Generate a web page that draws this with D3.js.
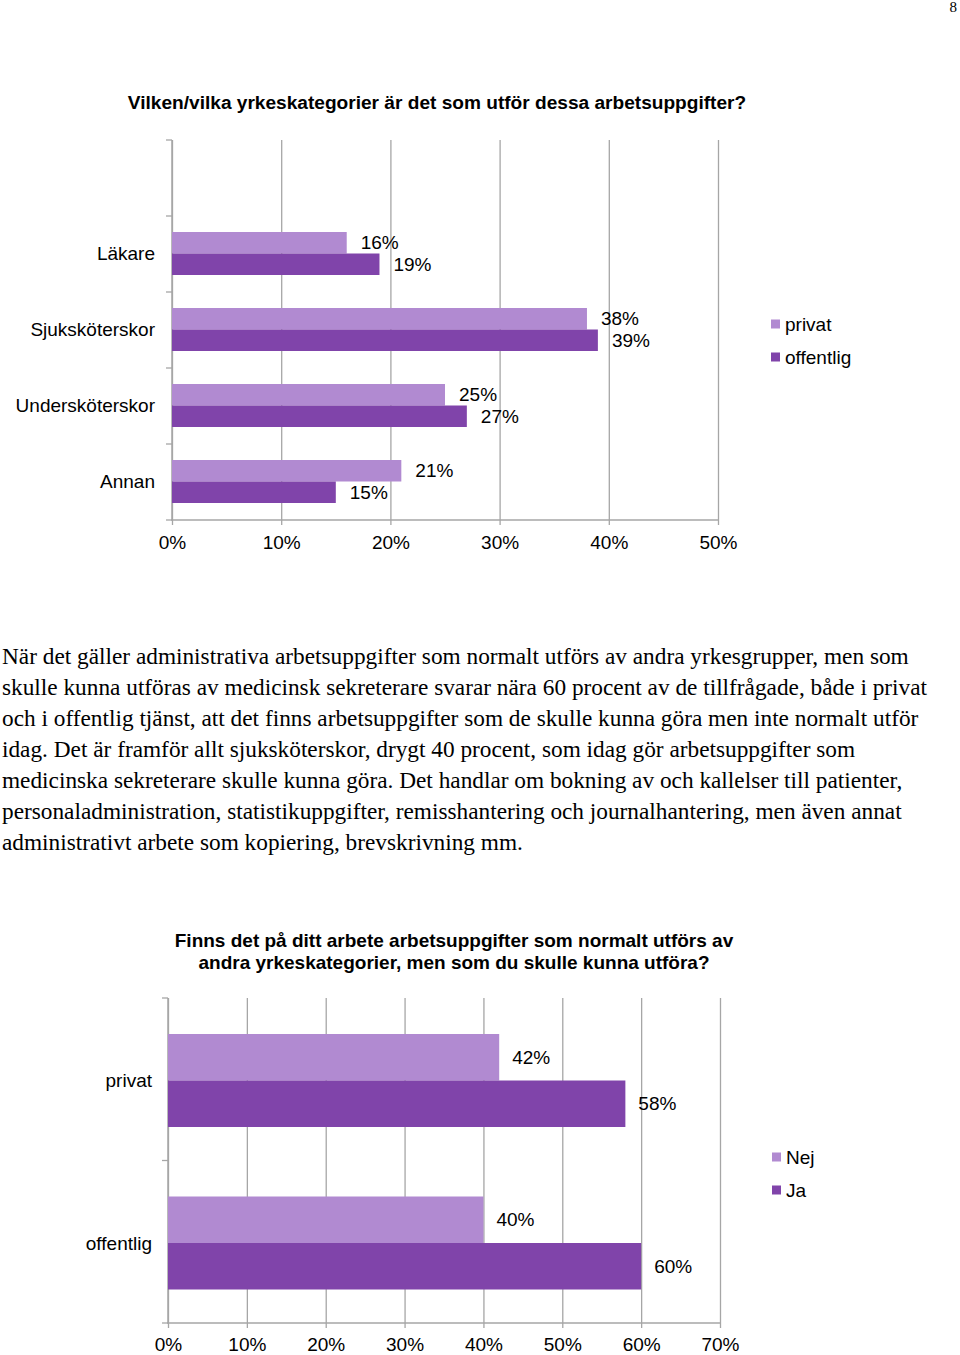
<!DOCTYPE html>
<html>
<head>
<meta charset="utf-8">
<script src="https://cdn.jsdelivr.net/npm/d3@7"></script>
<style>
body{margin:0;background:#fff;}
svg text{font-family:'Liberation Sans',Arial,sans-serif;fill:#000;}
.para{font-family:'Liberation Serif','Times New Roman',serif !important;}
</style>
</head>
<body>
<script>
//data for the first chart (empty first slot is how the picture leaves it)
var topCats = ['', 'Läkare', 'Sjuksköterskor', 'Undersköterskor', 'Annan'];
var topPrivat = [null, 16, 38, 25, 21];
var topOffentlig = [null, 19, 39, 27, 15];
var topTicks = [0, 10, 20, 30, 40, 50];
var topSeries = ['privat', 'offentlig'];

//data for the second chart
var botCats = ['privat', 'offentlig'];
var botNej = [42, 40];
var botJa = [58, 60];
var botTicks = [0, 10, 20, 30, 40, 50, 60, 70];
var botSeries = ['Nej', 'Ja'];

var paragraph = [
	'När det gäller administrativa arbetsuppgifter som normalt utförs av andra yrkesgrupper, men som',
	'skulle kunna utföras av medicinsk sekreterare svarar nära 60 procent av de tillfrågade, både i privat',
	'och i offentlig tjänst, att det finns arbetsuppgifter som de skulle kunna göra men inte normalt utför',
	'idag. Det är framför allt sjuksköterskor, drygt 40 procent, som idag gör arbetsuppgifter som',
	'medicinska sekreterare skulle kunna göra. Det handlar om bokning av och kallelser till patienter,',
	'personaladministration, statistikuppgifter, remisshantering och journalhantering, men även annat',
	'administrativt arbete som kopiering, brevskrivning mm.'
];

var light = '#b18ad1', dark = '#8044aa', grid = '#a6a6a6';

var svg = d3.select('body')
	.append('svg')
	.attr('width', 960)
	.attr('height', 1355);

//page number
svg.append('text')
	.attr('class','para')
	.attr('x', 957).attr('y', 12)
	.attr('text-anchor','end')
	.attr('font-size', 15)
	.text('8');

//draws one horizontal grouped bar chart
function barChart(opt){
	var x = d3.scaleLinear().domain([0, d3.max(opt.ticks)]).range([opt.left, opt.right]);
	var y = d3.scaleBand().domain(opt.cats).range([opt.top, opt.bottom]);
	var sub = d3.scaleBand().domain(opt.series).range(opt.inner);
	var g = svg.append('g');

	//gridlines and tick labels
	var ax = d3.axisBottom(x)
		.tickValues(opt.ticks)
		.tickSize(-(opt.bottom - opt.top))
		.tickFormat(function(d){ return d + '%'; });
	var axG = g.append('g')
		.attr('transform','translate(0,'+opt.bottom+')')
		.call(ax);
	axG.select('.domain').remove();
	axG.selectAll('.tick line')
		.attr('stroke', grid)
		.attr('y1', 5)
		.attr('stroke-width', 1.3);
	axG.selectAll('.tick text')
		.attr('font-size', 19)
		.attr('font-family', "'Liberation Sans',Arial,sans-serif")
		.attr('fill', '#000')
		.attr('y', opt.tickY)
		.attr('dy', '0.71em');

	//axis lines
	g.append('line')
		.attr('x1', opt.left-1).attr('x2', opt.right)
		.attr('y1', opt.bottom).attr('y2', opt.bottom)
		.attr('stroke', grid).attr('stroke-width', 1.5);
	g.append('line')
		.attr('x1', opt.left).attr('x2', opt.left)
		.attr('y1', opt.top).attr('y2', opt.bottom)
		.attr('stroke', grid).attr('stroke-width', 1.5);

	//category ticks on the left axis
	var bounds = opt.cats.map(function(c){ return y(c); }).concat([opt.bottom]);
	g.selectAll('.ctick')
		.data(bounds)
		.enter().append('line')
		.attr('x1', opt.left-6).attr('x2', opt.left)
		.attr('y1', function(d){ return d; }).attr('y2', function(d){ return d; })
		.attr('stroke', grid).attr('stroke-width', 1.3);

	//category labels
	g.selectAll('.clabel')
		.data(opt.cats)
		.enter().append('text')
		.attr('x', opt.left-opt.catGap)
		.attr('y', function(d){ return y(d) + (opt.inner[0]+opt.inner[1])/2; })
		.attr('dy', '0.35em')
		.attr('text-anchor','end')
		.attr('font-size', 19)
		.text(function(d){ return d; });

	//bars + value labels
	opt.series.forEach(function(s, si){
		var vals = opt.values[si];
		var rows = opt.cats.map(function(c, i){ return {cat:c, v:vals[i]}; })
			.filter(function(d){ return d.v !== null; });
		g.selectAll('.bar'+si)
			.data(rows)
			.enter().append('rect')
			.attr('x', opt.left)
			.attr('y', function(d){ return y(d.cat) + sub(s); })
			.attr('width', function(d){ return x(d.v) - opt.left; })
			.attr('height', sub.bandwidth())
			.attr('fill', opt.colors[si]);
		g.selectAll('.lab'+si)
			.data(rows)
			.enter().append('text')
			.attr('x', function(d){ return x(d.v) + opt.labelGap; })
			.attr('y', function(d){ return y(d.cat) + sub(s) + sub.bandwidth()/2; })
			.attr('dy', '0.35em')
			.attr('font-size', 19)
			.text(function(d){ return d.v + '%'; });
	});

	//legend
	opt.series.forEach(function(s, si){
		g.append('rect')
			.attr('x', opt.legX).attr('y', opt.legY[si]-4.5)
			.attr('width', 9).attr('height', 9)
			.attr('fill', opt.colors[si]);
		g.append('text')
			.attr('x', opt.legX+14).attr('y', opt.legY[si])
			.attr('dy','0.35em')
			.attr('font-size', 19)
			.text(s);
	});
}

//first chart
svg.append('text')
	.attr('x', 437).attr('y', 102)
	.attr('dy','0.35em')
	.attr('text-anchor','middle')
	.attr('font-size', 19.1)
	.attr('font-weight','bold')
	.text('Vilken/vilka yrkeskategorier är det som utför dessa arbetsuppgifter?');

barChart({
	cats: topCats, series: topSeries, values: [topPrivat, topOffentlig],
	ticks: topTicks, colors: [light, dark],
	left: 172, right: 718, top: 140, bottom: 520,
	inner: [16, 59], labelGap: 14, tickY: 16, catGap: 17,
	legX: 771, legY: [324, 357]
});

//paragraph
svg.selectAll('.pline')
	.data(paragraph)
	.enter().append('text')
	.attr('class','para')
	.attr('x', 2)
	.attr('y', function(d, i){ return 664 + i*31; })
	.attr('font-size', 23.3)
	.text(function(d){ return d; });

//second chart
svg.append('text')
	.attr('x', 454).attr('y', 940)
	.attr('dy','0.35em')
	.attr('text-anchor','middle')
	.attr('font-size', 19)
	.attr('font-weight','bold')
	.text('Finns det på ditt arbete arbetsuppgifter som normalt utförs av');
svg.append('text')
	.attr('x', 454).attr('y', 962)
	.attr('dy','0.35em')
	.attr('text-anchor','middle')
	.attr('font-size', 19)
	.attr('font-weight','bold')
	.text('andra yrkeskategorier, men som du skulle kunna utföra?');

barChart({
	cats: botCats, series: botSeries, values: [botNej, botJa],
	ticks: botTicks, colors: [light, dark],
	left: 168, right: 720, top: 998, bottom: 1323,
	inner: [36, 129], labelGap: 13, tickY: 15, catGap: 16,
	legX: 772, legY: [1157, 1190]
});
</script>
</body>
</html>
